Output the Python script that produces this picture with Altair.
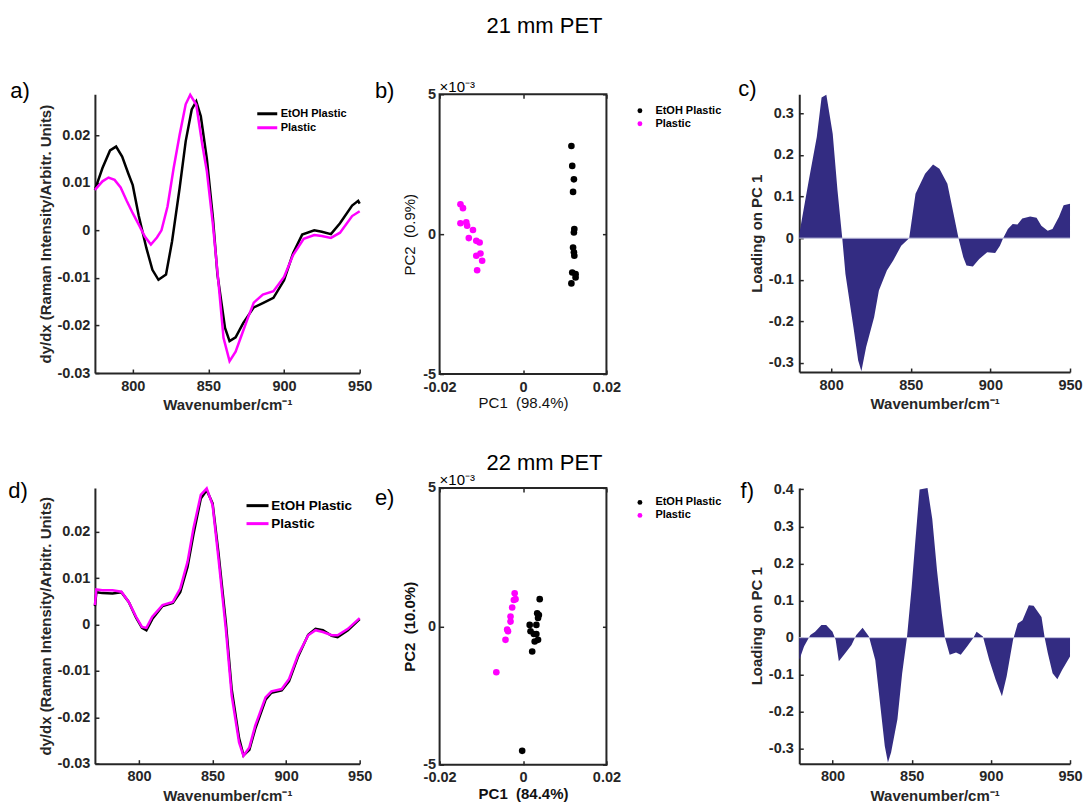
import altair as alt
import pandas as pd

FONT = "Liberation Sans"
AX = "#262626"
NAVY = "#332c82"
MAG = "#ff00ff"

series_names = ["EtOH Plastic", "Plastic"]

# ---------------- panel a (21 mm PET derivative spectra) ----------------
a_etoh_wn = [775, 780, 785, 789, 793, 797, 800, 804, 809, 813, 817, 822, 826, 831, 835, 839,
             842, 845, 849, 853, 856, 861, 864, 868, 873, 880, 886, 893, 900, 906, 912, 920,
             925, 931, 937, 945, 949, 950]
a_etoh_val = [0.0085, 0.0131, 0.0168, 0.0176, 0.0155, 0.0120, 0.0095, 0.0030, -0.0037, -0.0083,
              -0.0104, -0.0093, -0.0023, 0.0089, 0.0187, 0.0254, 0.0271, 0.0240, 0.0150, 0.0026,
              -0.0093, -0.0205, -0.0233, -0.0225, -0.0195, -0.0162, -0.0153, -0.0142, -0.0105,
              -0.0048, -0.0009, 0.0000, -0.0003, -0.0008, 0.0015, 0.0052, 0.0062, 0.0056]
a_plastic_wn = [775, 780, 784, 788, 792, 796, 800, 804, 808, 812, 816, 819, 823, 827, 831, 835,
                838, 842, 846, 849, 853, 857, 860, 864, 868, 872, 876, 880, 886, 893, 900, 906,
                913, 920, 925, 931, 937, 945, 950]
a_plastic_val = [0.0085, 0.0103, 0.0111, 0.0106, 0.0090, 0.0062, 0.0036, 0.0012, -0.0013, -0.0030,
                 -0.0015, 0.0000, 0.0050, 0.0130, 0.0201, 0.0265, 0.0285, 0.0264, 0.0180, 0.0124,
                 0.0012, -0.0121, -0.0226, -0.0275, -0.0255, -0.0220, -0.0185, -0.0152, -0.0135,
                 -0.0128, -0.0098, -0.0052, -0.0018, -0.0010, -0.0012, -0.0016, -0.0005, 0.0030,
                 0.0040]

# ---------------- panel d (22 mm PET derivative spectra) ----------------
d_wn = [770, 771, 775, 782, 788, 793, 798, 802, 805, 809, 816, 823, 828, 833, 837, 842, 846,
        850, 854, 859, 863, 868, 871, 875, 879, 886, 890, 897, 902, 908, 915, 920, 925, 931,
        935, 942, 950]
d_etoh_val = [0.0040, 0.0070, 0.0068, 0.0067, 0.0070, 0.0049, 0.0015, -0.0007, -0.0012, 0.0012,
              0.0040, 0.0047, 0.0070, 0.0125, 0.0195, 0.0272, 0.0290, 0.0262, 0.0155, 0.0005,
              -0.0140, -0.0245, -0.0282, -0.0270, -0.0225, -0.0162, -0.0147, -0.0142, -0.0122,
              -0.0070, -0.0022, -0.0009, -0.0012, -0.0024, -0.0027, -0.0012, 0.0012]
d_plastic_val = [0.0042, 0.0076, 0.0074, 0.0074, 0.0071, 0.0049, 0.0017, -0.0005, -0.0007, 0.0017,
                 0.0042, 0.0049, 0.0078, 0.0136, 0.0208, 0.0280, 0.0294, 0.0258, 0.0143, -0.0009,
                 -0.0153, -0.0254, -0.0283, -0.0265, -0.0218, -0.0157, -0.0144, -0.0139, -0.0117,
                 -0.0066, -0.0023, -0.0012, -0.0016, -0.0023, -0.0023, -0.0009, 0.0014]

# ---------------- panel c / f (loadings on PC 1) ----------------
c_wn = [780, 786, 791, 794, 797, 801, 804, 807, 809, 814, 817, 819, 822, 827, 830, 835, 839,
        844, 849, 853, 859, 864, 868, 873, 876, 880, 883, 885, 889, 893, 898, 903, 906, 908,
        911, 914, 917, 920, 925, 929, 932, 936, 939, 943, 946, 950]
c_loading = [0.01, 0.139, 0.243, 0.338, 0.345, 0.251, 0.115, 0.0, -0.086, -0.214, -0.294, -0.32,
             -0.262, -0.19, -0.126, -0.078, -0.054, -0.018, 0.0, 0.107, 0.155, 0.177, 0.167,
             0.131, 0.075, 0.0, -0.046, -0.066, -0.068, -0.05, -0.034, -0.036, -0.018, 0.0,
             0.022, 0.034, 0.033, 0.047, 0.052, 0.049, 0.030, 0.018, 0.022, 0.051, 0.079, 0.083]
f_wn = [779, 782, 786, 789, 793, 796, 800, 802, 804, 808, 812, 815, 819, 823, 827, 830, 833,
        835, 837, 841, 844, 847, 850, 852, 855, 860, 863, 866, 869, 871, 874, 878, 881, 885,
        889, 891, 895, 899, 903, 907, 910, 914, 917, 920, 924, 927, 932, 934, 936, 939, 942,
        945, 950]
f_loading = [-0.06, -0.024, 0.007, 0.016, 0.034, 0.034, 0.016, -0.006, -0.064, -0.042, -0.02,
             0.007, 0.027, 0.003, -0.06, -0.176, -0.292, -0.337, -0.31, -0.22, -0.096, 0.0,
             0.137, 0.244, 0.40, 0.404, 0.32, 0.181, 0.065, 0.0, -0.046, -0.04, -0.046, -0.024,
             0.0, 0.016, 0.003, -0.06, -0.113, -0.158, -0.104, -0.006, 0.038, 0.047, 0.0875,
             0.086, 0.056, 0.0, -0.042, -0.096, -0.112, -0.087, -0.051]

# ---------------- panel b / e (PCA scores) ----------------
b_etoh_pc1 = [0.0116, 0.0118, 0.0122, 0.0120, 0.0123, 0.0122, 0.0120, 0.0122, 0.0123, 0.0118,
              0.0126, 0.0126, 0.0116]
b_etoh_pc2 = [0.00315, 0.00244, 0.00196, 0.00151, 0.00018, 0.00006, -0.00048, -0.00065,
              -0.00077, -0.00137, -0.00143, -0.00155, -0.00176]
b_plastic_pc1 = [-0.0150, -0.0144, -0.0150, -0.0136, -0.0134, -0.0120, -0.0130, -0.0112,
                 -0.0104, -0.0102, -0.0112, -0.0098, -0.0110]
b_plastic_pc2 = [0.00107, 0.00093, 0.00039, 0.00042, 0.00030, 0.00015, -0.00014, -0.00024,
                 -0.00030, -0.00069, -0.00077, -0.00095, -0.00129]
e_etoh_pc1 = [0.0040, 0.0034, 0.0038, 0.0036, 0.0032, 0.0016, 0.0018, 0.0026, 0.0032, 0.0036,
              0.0028, 0.0022, -0.0002]
e_etoh_pc2 = [0.00098, 0.00047, 0.00041, 0.00030, 0.00005, 0.00005, -0.00018, -0.00028,
              -0.00028, -0.00049, -0.00055, -0.00091, -0.0045]
e_plastic_pc1 = [-0.0020, -0.0018, -0.0022, -0.0026, -0.0030, -0.0030, -0.0038, -0.0036,
                 -0.0042, -0.0064]
e_plastic_pc2 = [0.00119, 0.00098, 0.00095, 0.00068, 0.00035, 0.00017, -0.00012, -0.00018,
                 -0.00049, -0.00166]

x_ticks = [800, 850, 900, 950]
deriv_ticks = [-0.03, -0.02, -0.01, 0, 0.01, 0.02]
c_ticks = [-0.3, -0.2, -0.1, 0, 0.1, 0.2, 0.3]
f_ticks = [-0.3, -0.2, -0.1, 0, 0.1, 0.2, 0.3, 0.4]
pc1_ticks = [-0.02, 0, 0.02]
pc2_ticks = [-0.005, 0, 0.005]

WN_TITLE = "Wavenumber/cm\u207b\u00b9"
DERIV_TITLE = "dy/dx (Raman Intensity/Arbitr. Units)"
LOAD_TITLE = "Loading on PC 1"


def expr_dec(d):
    return ("datum.value == 0 ? '0' : (datum.value < 0 ? '-' : '') + format(abs(datum.value), '.%df')" % d)


EXPR_MILLI = ("datum.value == 0 ? '0' : (datum.value < 0 ? '-' : '') + format(abs(datum.value) * 1000, '.0f')")
EXPR_INT = "format(datum.value, 'd')"


def lab_axis(orient, values, title, expr, weight="bold", label_pad=6, title_pad=6,
             domain=True, ticks=False, offset=0, title_color=AX):
    return alt.Axis(orient=orient, values=values, title=title, labelExpr=expr,
                    domain=domain, domainColor=AX, domainWidth=2,
                    ticks=ticks, tickSize=4 if ticks else 0, tickColor=AX, tickWidth=1.5,
                    offset=offset, grid=False, labelFlush=False, labelOverlap=False,
                    labelFont=FONT, labelFontSize=14.5, labelFontWeight="bold", labelColor=AX,
                    labelPadding=label_pad, titleFont=FONT, titleFontSize=15,
                    titleFontWeight=weight, titleColor=title_color, titlePadding=title_pad)


def tick_axis(orient, values):
    return alt.Axis(orient=orient, values=values, title=None, labels=False, domain=False,
                    ticks=True, tickSize=4, tickColor=AX, tickWidth=1.5, offset=-4, grid=False)


def text_layer(txt, dx, dy, size=22, align="center", weight="normal"):
    return alt.Chart(pd.DataFrame({"t": [txt]})).mark_text(
        font=FONT, fontSize=size, fontWeight=weight, color="#000000", align=align,
        baseline="middle").encode(text="t:N", x=alt.value(dx), y=alt.value(dy))


def spectrum_panel(et_wn, et_val, pl_wn, pl_val, xdom, ydom, width, height, lab, ldx, ldy, leg):
    df = pd.DataFrame({
        "wn": list(et_wn) + list(pl_wn),
        "val": list(et_val) + list(pl_val),
        "series": [series_names[0]] * len(et_wn) + [series_names[1]] * len(pl_wn),
    })
    xs = alt.Scale(domain=xdom, nice=False, zero=False)
    ys = alt.Scale(domain=ydom, nice=False, zero=False)
    lines = alt.Chart(df).mark_line(strokeWidth=2.5).encode(
        x=alt.X("wn:Q", scale=xs, axis=lab_axis("bottom", x_ticks, WN_TITLE, EXPR_INT, label_pad=6, title_pad=5)),
        y=alt.Y("val:Q", scale=ys, axis=lab_axis("left", deriv_ticks, DERIV_TITLE, expr_dec(2), label_pad=5, title_pad=3)),
        color=alt.Color("series:N", scale=alt.Scale(domain=series_names, range=["#000000", MAG]),
                        legend=leg),
    )
    tk = alt.Chart(df).mark_point(opacity=0).encode(
        x=alt.X("wn:Q", scale=xs, axis=tick_axis("bottom", x_ticks)),
        y=alt.Y("val:Q", scale=ys, axis=tick_axis("left", deriv_ticks)),
    )
    return alt.layer(lines, tk, text_layer(lab, ldx, ldy)).resolve_axis(
        x="independent", y="independent").properties(width=width, height=height)


def loading_panel(wn, vals, xdom, ydom, yticks, width, height, lab, ldx, ldy):
    df = pd.DataFrame({"wn": wn, "val": vals})
    xs = alt.Scale(domain=xdom, nice=False, zero=False)
    ys = alt.Scale(domain=ydom, nice=False, zero=False)
    area = alt.Chart(df).mark_area(color=NAVY, opacity=1, interpolate="linear").encode(
        x=alt.X("wn:Q", scale=xs, axis=lab_axis("bottom", x_ticks, WN_TITLE, EXPR_INT, label_pad=6, title_pad=5)),
        y=alt.Y("val:Q", scale=ys, axis=lab_axis("left", yticks, LOAD_TITLE, expr_dec(1), label_pad=6, title_pad=4)),
        y2=alt.datum(0),
    )
    zero = alt.Chart(pd.DataFrame({"z": [0]})).mark_rule(color="#c4c4e0", strokeWidth=1).encode(
        y=alt.Y("z:Q", scale=ys, axis=None))
    tk = alt.Chart(df).mark_point(opacity=0).encode(
        x=alt.X("wn:Q", scale=xs, axis=tick_axis("bottom", x_ticks)),
        y=alt.Y("val:Q", scale=ys, axis=tick_axis("left", yticks)),
    )
    return alt.layer(area, zero, tk, text_layer(lab, ldx, ldy)).resolve_axis(
        x="independent", y="independent").properties(width=width, height=height)


def score_panel(et1, et2, pl1, pl2, width, height, xtitle, ytitle, weight, lab, ldx, ldy,
                title_txt, tdy, exp_dy, leg):
    df = pd.DataFrame({
        "pc1": list(et1) + list(pl1),
        "pc2": list(et2) + list(pl2),
        "series": [series_names[0]] * len(et1) + [series_names[1]] * len(pl1),
    })
    xs = alt.Scale(domain=[-0.02, 0.02], nice=False, zero=False)
    ys = alt.Scale(domain=[-0.005, 0.005], nice=False, zero=False)
    pts = alt.Chart(df).mark_circle(size=44, opacity=1).encode(
        x=alt.X("pc1:Q", scale=xs, axis=lab_axis("bottom", pc1_ticks, xtitle, expr_dec(2), weight=weight,
                                               label_pad=6, title_pad=2, domain=False, ticks=True,
                                               offset=-4, title_color="#111111")),
        y=alt.Y("pc2:Q", scale=ys, axis=lab_axis("left", pc2_ticks, ytitle, EXPR_MILLI, weight=weight,
                                               label_pad=4, title_pad=5, domain=False, ticks=True,
                                               offset=-4, title_color="#111111")),
        color=alt.Color("series:N", scale=alt.Scale(domain=series_names, range=["#000000", MAG]),
                        legend=leg),
    )
    tk = alt.Chart(df).mark_point(opacity=0).encode(
        x=alt.X("pc1:Q", scale=xs, axis=tick_axis("top", pc1_ticks)),
        y=alt.Y("pc2:Q", scale=ys, axis=tick_axis("right", pc2_ticks)),
    )
    return alt.layer(
        pts, tk,
        text_layer(lab, ldx, ldy),
        text_layer(title_txt, 105, tdy),
        text_layer("\u00d710\u207b\u00b3", 0, exp_dy, size=15, align="left"),
    ).resolve_axis(x="independent", y="independent").properties(
        width=width, height=height,
        view=alt.ViewBackground(stroke=AX, strokeWidth=2, strokeOpacity=1))


def line_legend(lx, ly, size, pad, half):
    return alt.Legend(orient="none", legendX=lx, legendY=ly, title=None,
                      symbolType="M-%s,0H%s" % (half, half), symbolSize=100, symbolStrokeWidth=3,
                      labelFont=FONT, labelFontSize=size, labelFontWeight="bold", labelColor="#000000",
                      labelOffset=7, rowPadding=pad, padding=0)


def dot_legend(lx, ly):
    return alt.Legend(orient="none", legendX=lx, legendY=ly, title=None,
                      symbolType="circle", symbolSize=24, labelFont=FONT, labelFontSize=11,
                      labelFontWeight="bold", labelColor="#000000", labelOffset=10,
                      rowPadding=1, padding=0)


def spacer(w):
    return alt.Chart(pd.DataFrame({"t": [""]})).mark_text().encode(text="t:N").properties(
        width=w, height=10)


pa = spectrum_panel(a_etoh_wn, a_etoh_val, a_plastic_wn, a_plastic_val, [775, 950],
                    [-0.03, 0.0286], 265, 279, "a)", -75, -3, line_legend(166, 13, 11, 1, 2))
pb = score_panel(b_etoh_pc1, b_etoh_pc2, b_plastic_pc1, b_plastic_pc2, 167, 280,
                 "PC1 \u00a0(98.4%)", "PC2 \u00a0(0.9%)", "normal", "b)", -55, -3,
                 "21 mm PET", -68, -7, dot_legend(195, 11))
pc = loading_panel(c_wn, c_loading, [780, 950], [-0.322, 0.346], c_ticks, 271, 278, "c)", -52, -5)
pd_ = spectrum_panel(d_wn, d_etoh_val, d_wn, d_plastic_val, [770, 950], [-0.03, 0.0295],
                     265, 276, "d)", -77, 3, line_legend(156, 11, 13.5, 3, 2.2))
pe = score_panel(e_etoh_pc1, e_etoh_pc2, e_plastic_pc1, e_plastic_pc2, 167, 277,
                 "PC1 \u00a0(84.4%)", "PC2 \u00a0(10.0%)", "bold", "e)", -55, 10,
                 "22 mm PET", -25, -8, dot_legend(195, 9))
pf = loading_panel(f_wn, f_loading, [779, 950], [-0.34, 0.404], f_ticks, 271, 276, "f)", -52, 3)

chart = alt.concat(
    pa, spacer(80), pb, spacer(193), pc,
    pd_, spacer(80), pe, spacer(193), pf,
    columns=5, spacing={"row": 114, "column": 0}, bounds="flush", align="each",
).resolve_scale(color="independent").configure_view(strokeWidth=0).properties(
    padding={"left": 8, "top": 14, "right": 0, "bottom": 0},
    background="white",
)

chart.save("out.html", embed_options={"renderer": "svg", "actions": False})
